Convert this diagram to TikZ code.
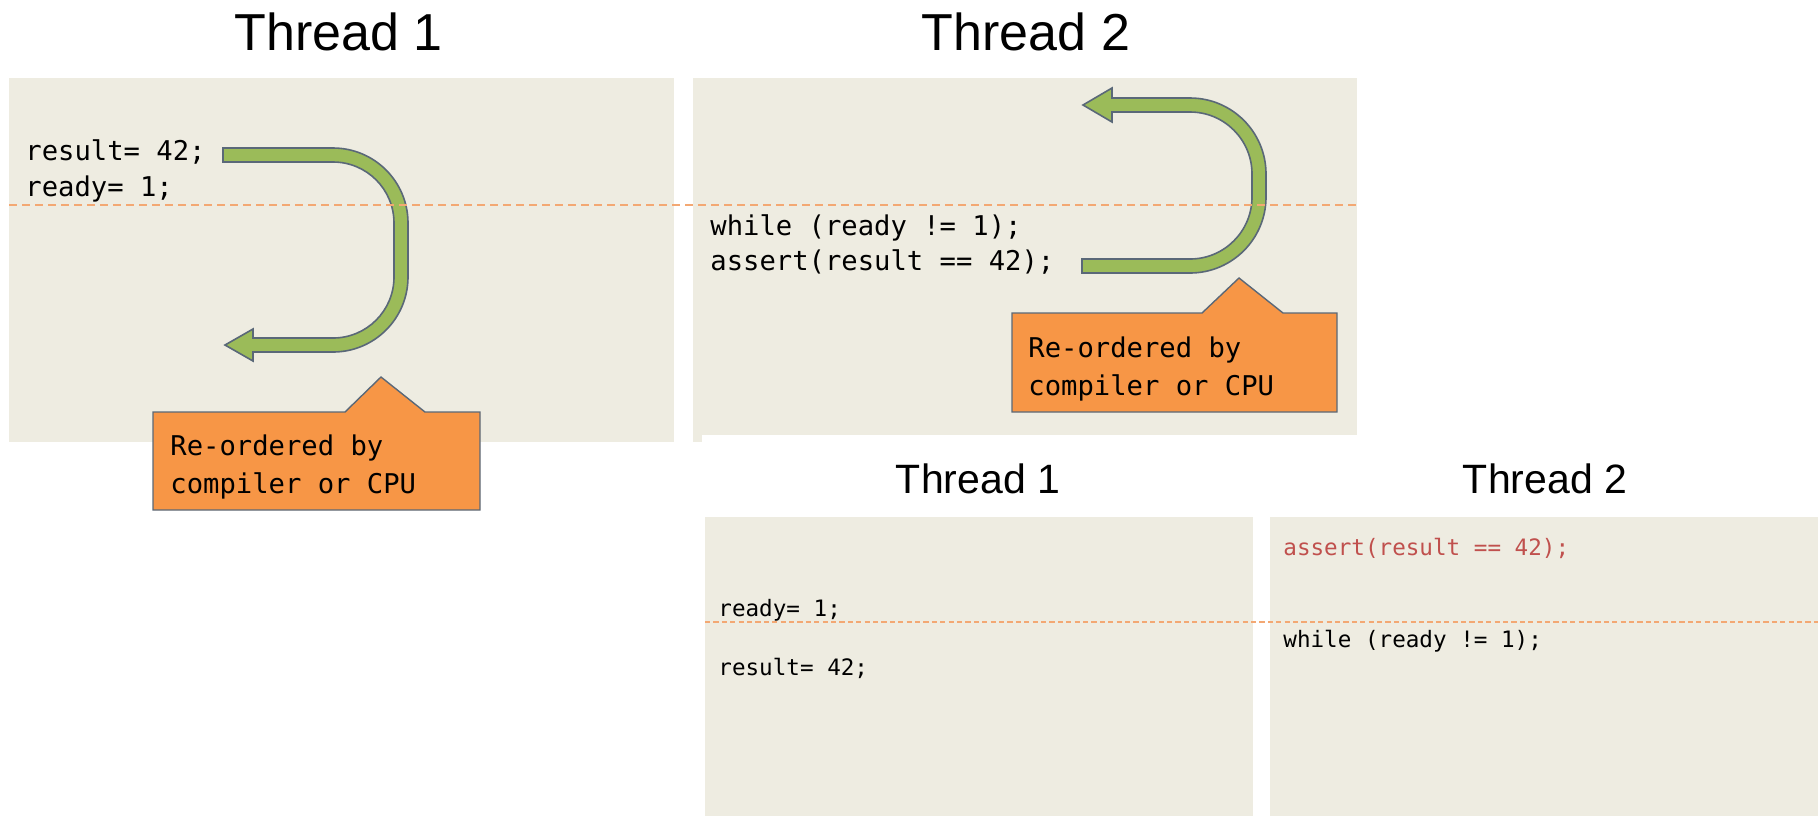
\documentclass[tikz,border=0pt]{standalone}
\usepackage{fontspec}
\setmainfont{Liberation Sans}
\newfontfamily\codefont{DejaVu Sans Mono}
\definecolor{panelbg}{HTML}{EEECE1}
\definecolor{arrowgreen}{HTML}{9BBB59}
\definecolor{calloutorange}{HTML}{F79646}
\definecolor{shapeedge}{HTML}{5A6878}
\definecolor{linkorange}{HTML}{F3A873}
\definecolor{codered}{HTML}{C0504D}
\tikzset{
  panel/.style={fill=panelbg, draw=none},
  uturn/.style={fill=arrowgreen, draw=shapeedge, line width=0.8pt, line join=miter},
  callout/.style={fill=calloutorange, draw=shapeedge, line width=0.7pt},
  bigtitle/.style={anchor=base, inner sep=0pt, font=\fontsize{26}{30}\selectfont},
  subtitle/.style={anchor=base, inner sep=0pt, font=\fontsize{20.5}{24}\selectfont},
  codebig/.style={anchor=base west, inner sep=0pt, font=\codefont\fontsize{13.6}{18}\selectfont},
  codesmall/.style={anchor=base west, inner sep=0pt, font=\codefont\fontsize{11.3}{14}\selectfont},
  orderline/.style={draw=linkorange, line width=0.8pt, dash pattern=on 4pt off 2.5pt},
  orderlinefine/.style={draw=linkorange, line width=0.8pt, dash pattern=on 2.6pt off 1.6pt},
}
\begin{document}
\begin{tikzpicture}[x=0.5pt, y=-0.5pt]
\useasboundingbox (0,0) rectangle (1818,816);

% titles
\node[bigtitle] (t1) at (338.5,50) {Thread 1};
\node[bigtitle] (t2) at (1026,50) {Thread 2};
\node[subtitle] (t3) at (978,493) {Thread 1};
\node[subtitle] (t4) at (1545,493) {Thread 2};

% code panels
\path[panel] (9,78) rectangle (674,442);
\path[panel] (693,78) rectangle (1357,435);
\path[panel] (693,435) rectangle (702,442);
\path[panel] (705,517) rectangle (1253,816);
\path[panel] (1270,517) rectangle (1818,816);

% thread 1: store moved below the flag
\path[uturn] (223,148) -- (333,148) arc[start angle=-90, end angle=0, radius=75]
  -- (408,277) arc[start angle=0, end angle=90, radius=75]
  -- (253,352) -- (253,361) -- (225,345) -- (253,329) -- (253,338)
  -- (333,338) arc[start angle=90, end angle=0, radius=61]
  -- (394,223) arc[start angle=0, end angle=-90, radius=61]
  -- (223,162) -- cycle;

% thread 2: assertion hoisted above the loop
\path[uturn] (1082,259) -- (1190,259) arc[start angle=90, end angle=0, radius=62]
  -- (1252,174) arc[start angle=0, end angle=-90, radius=62]
  -- (1112,112) -- (1112,122) -- (1083,105) -- (1112,88) -- (1112,98)
  -- (1190,98) arc[start angle=-90, end angle=0, radius=76]
  -- (1266,197) arc[start angle=0, end angle=90, radius=76]
  -- (1082,273) -- cycle;

% callouts
\path[callout] (153,412) -- (345,412) -- (381,377) -- (425,412) -- (480,412)
  -- (480,510) -- (153,510) -- cycle;
\path[callout] (1012,313) -- (1202,313) -- (1239,278) -- (1283,313) -- (1337,313)
  -- (1337,412) -- (1012,412) -- cycle;

% original program order
\node[codebig] (a1) at (25,160) {result= 42;};
\node[codebig] (a2) at (25,196) {ready= 1;};
\node[codebig] (b1) at (710,235) {while (ready != 1);};
\node[codebig] (b2) at (710,270) {assert(result == 42);};

% callout labels
\node[codebig] (c1) at (170,455) {Re-ordered by};
\node[codebig] (c2) at (170,493) {compiler or CPU};
\node[codebig] (d1) at (1028,357) {Re-ordered by};
\node[codebig] (d2) at (1028,395) {compiler or CPU};

% re-ordered execution
\node[codesmall] (e1) at (718,616) {ready= 1;};
\node[codesmall] (e2) at (718,675) {result= 42;};
\node[codesmall, text=codered] (f1) at (1283,555) {assert(result == 42);};
\node[codesmall] (f2) at (1283,647) {while (ready != 1);};

% ordering boundaries
\coordinate (ul) at (9,205);
\coordinate (ur) at (1357,205);
\coordinate (ll) at (705,622);
\coordinate (lr) at (1818,622);
\draw[orderline] (ul) -- (ur);
\draw[orderlinefine] (ll) -- (lr);
\end{tikzpicture}
\end{document}
